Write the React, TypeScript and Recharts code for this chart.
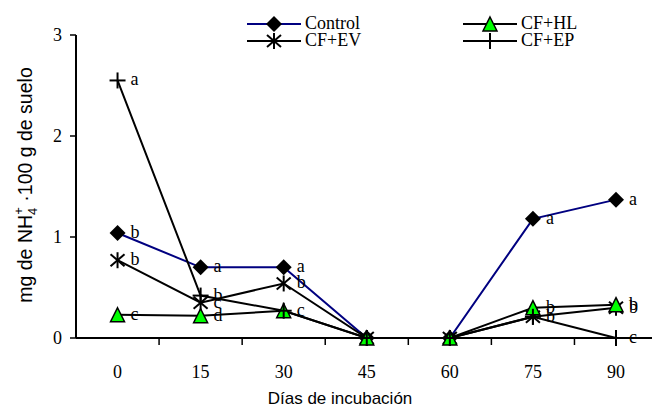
import { Line, LineChart, XAxis, YAxis, LabelList, Label } from "recharts";

const days = [0, 15, 30, 45, 60, 75, 90];
const control = [1.04, 0.7, 0.7, 0, 0, 1.18, 1.37];
const cfHL = [0.23, 0.22, 0.27, 0, 0, 0.3, 0.33];
const cfEV = [0.77, 0.35, 0.54, 0, 0, 0.21, 0.3];
const cfEP = [2.55, 0.42, 0.27, 0, 0, 0.21, 0];

// letras de significancia por serie
const controlLetters = ["b", "a", "a", "", "", "a", "a"];
const hlLetters = ["c", "d", "c", "", "", "b", "b"];
const evLetters = ["b", "c", "b", "", "", "b", "b"];
const epLetters = ["a", "b", "", "", "", "", "c"];

const yTicks = [0, 1, 2, 3];

// boundaries between categories get tick marks, category centers get labels
const xTicks = days.flatMap((d, i) => (i < days.length - 1 ? [d, d + 7.5] : [d]));

const data = days.map((day, i) => ({
  day,
  control: control[i],
  cfHL: cfHL[i],
  cfEV: cfEV[i],
  cfEP: cfEP[i],
  controlL: controlLetters[i],
  hlL: hlLetters[i],
  evL: evLetters[i],
  epL: epLetters[i],
}));

const SERIF = "'Liberation Serif', 'Times New Roman', serif";
const SANS = "'Liberation Sans', Arial, sans-serif";
const NAVY = "#000080";
const GREEN = "#00FF00";

function Diamond({ cx, cy }: any) {
  if (cx == null || cy == null) return null;
  return <polygon points={`${cx},${cy - 8} ${cx + 8},${cy} ${cx},${cy + 8} ${cx - 8},${cy}`} fill="#000" />;
}

function Triangle({ cx, cy }: any) {
  if (cx == null || cy == null) return null;
  return (
    <polygon
      points={`${cx},${cy - 7} ${cx + 7},${cy + 7} ${cx - 7},${cy + 7}`}
      fill={GREEN}
      stroke="#000"
      strokeWidth={1.5}
    />
  );
}

function Asterisk({ cx, cy }: any) {
  if (cx == null || cy == null) return null;
  return (
    <g stroke="#000" strokeWidth={2}>
      <line x1={cx} y1={cy - 8} x2={cx} y2={cy + 8} />
      <line x1={cx - 7} y1={cy - 6} x2={cx + 7} y2={cy + 6} />
      <line x1={cx - 7} y1={cy + 6} x2={cx + 7} y2={cy - 6} />
    </g>
  );
}

function Plus({ cx, cy }: any) {
  if (cx == null || cy == null) return null;
  return (
    <g stroke="#000" strokeWidth={2}>
      <line x1={cx - 8} y1={cy} x2={cx + 8} y2={cy} />
      <line x1={cx} y1={cy - 8} x2={cx} y2={cy + 8} />
    </g>
  );
}

function Letter(props: any) {
  const { x, y, value } = props;
  if (!value) return null;
  return (
    <text x={x + 13} y={y} dy={5} fontFamily={SERIF} fontSize={18} fill="#000">
      {value}
    </text>
  );
}

function XTick({ x, y, payload }: any) {
  const v = payload.value;
  if (v % 15 !== 0) {
    return <line x1={x} y1={y} x2={x} y2={y + 7} stroke="#000" strokeWidth={1.5} />;
  }
  return (
    <text x={x} y={y + 40} textAnchor="middle" fontFamily={SERIF} fontSize={18} fill="#000">
      {v}
    </text>
  );
}

function LegendItem({ label, color, Marker }: { label: string; color: string; Marker: any }) {
  return (
    <div style={{ display: "flex", alignItems: "center", height: 17 }}>
      <svg width={56} height={18}>
        <line x1={0} y1={9} x2={54} y2={9} stroke={color} strokeWidth={2} />
        <Marker cx={27} cy={9} />
      </svg>
      <span style={{ fontFamily: SERIF, fontSize: 18, marginLeft: 2, lineHeight: "17px" }}>{label}</span>
    </div>
  );
}

function ChartLegend() {
  return (
    <div
      style={{
        position: "absolute",
        left: 247,
        top: 15,
        display: "grid",
        gridTemplateColumns: "216px 140px",
      }}
    >
      <LegendItem label="Control" color={NAVY} Marker={Diamond} />
      <LegendItem label="CF+HL" color="#000" Marker={Triangle} />
      <LegendItem label="CF+EV" color="#000" Marker={Asterisk} />
      <LegendItem label="CF+EP" color="#000" Marker={Plus} />
    </div>
  );
}

function YTitle() {
  return (
    <text
      transform="translate(32, 185) rotate(-90)"
      textAnchor="middle"
      fontFamily={SANS}
      fontSize={19.5}
      fill="#000"
    >
      mg de NH
      <tspan fontSize={13} dy={5}>4</tspan>
      <tspan fontSize={13} dx={-7} dy={-14}>+</tspan>
      <tspan dy={9}> ·100 g de suelo</tspan>
    </text>
  );
}

function XTitle() {
  return (
    <text x={340} y={404} textAnchor="middle" fontFamily={SANS} fontSize={17} fill="#000">
      Días de incubación
    </text>
  );
}

export default function App() {
  return (
    <div style={{ position: "absolute", left: 0, top: 0, width: 657, height: 412, background: "#fff" }}>
      <LineChart width={657} height={412} data={data} margin={{ top: 35, right: 5, bottom: 44, left: 0 }}>
        <XAxis
          dataKey="day"
          type="number"
          domain={[-7.5, 96.5]}
          ticks={xTicks}
          interval={0}
          height={30}
          tick={<XTick />}
          tickLine={false}
          tickSize={0}
          tickMargin={0}
          axisLine={{ stroke: "#000", strokeWidth: 2 }}
        >
          <Label content={<XTitle />} />
        </XAxis>
        <YAxis
          type="number"
          domain={[0, 3]}
          ticks={yTicks}
          width={76}
          tickSize={6}
          tickMargin={8}
          tick={{ fontFamily: SERIF, fontSize: 18, fill: "#000" }}
          tickLine={{ stroke: "#000", strokeWidth: 1.5 }}
          axisLine={{ stroke: "#000", strokeWidth: 2 }}
        >
          <Label content={<YTitle />} />
        </YAxis>
        <Line
          dataKey="control"
          name="Control"
          stroke={NAVY}
          strokeWidth={2}
          dot={<Diamond />}
          activeDot={false}
          isAnimationActive={false}
        >
          <LabelList dataKey="controlL" content={<Letter />} />
        </Line>
        <Line
          dataKey="cfEV"
          name="CF+EV"
          stroke="#000"
          strokeWidth={2}
          dot={<Asterisk />}
          activeDot={false}
          isAnimationActive={false}
        >
          <LabelList dataKey="evL" content={<Letter />} />
        </Line>
        <Line
          dataKey="cfHL"
          name="CF+HL"
          stroke="#000"
          strokeWidth={2}
          dot={<Triangle />}
          activeDot={false}
          isAnimationActive={false}
        >
          <LabelList dataKey="hlL" content={<Letter />} />
        </Line>
        <Line
          dataKey="cfEP"
          name="CF+EP"
          stroke="#000"
          strokeWidth={2}
          dot={<Plus />}
          activeDot={false}
          isAnimationActive={false}
        >
          <LabelList dataKey="epL" content={<Letter />} />
        </Line>
      </LineChart>
      <ChartLegend />
    </div>
  );
}
